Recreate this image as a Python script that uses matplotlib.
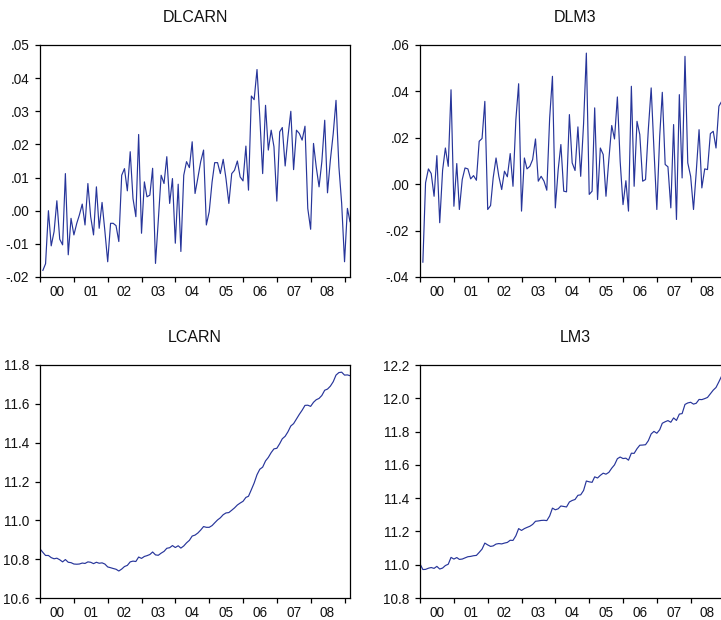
import numpy as np
import pandas as pd
import matplotlib
matplotlib.use("Agg")
import matplotlib.pyplot as plt
import matplotlib.dates as mdates
from matplotlib.ticker import FuncFormatter, NullFormatter

# monthly sample 2000M01 - 2009M03
months = pd.date_range("2000-01-01", periods=111, freq="MS")

# first differences start in 2000M02
dlcarn = [-0.018, -0.016, 0.000, -0.0106, -0.0063, 0.003, -0.0086, -0.0103, 0.0112, -0.0133, -0.0023, -0.0073,
          -0.0038, -0.0013, 0.002, -0.0043, 0.0082, -0.0018, -0.0073, 0.0072, -0.0053, 0.0025, -0.006, -0.0154,
          -0.0038, -0.0038, -0.0045, -0.0093, 0.0107, 0.0127, 0.006, 0.0178, 0.0037, -0.0018, 0.023, -0.0068,
          0.0087, 0.0042, 0.0047, 0.0128, -0.0159, -0.003, 0.0107, 0.0082, 0.0163, 0.0022, 0.0097, -0.0098,
          0.008, -0.0123, 0.0107, 0.0148, 0.013, 0.0208, 0.0052, 0.010, 0.0148, 0.0183, -0.0043, -0.0003,
          0.0087, 0.0145, 0.0145, 0.0112, 0.0155, 0.0097, 0.0022, 0.0112, 0.0122, 0.015, 0.0102, 0.009,
          0.0195, 0.0062, 0.0346, 0.0335, 0.0426, 0.0283, 0.0112, 0.0318, 0.0183, 0.0243, 0.0193, 0.0029,
          0.0238, 0.0251, 0.0135, 0.0223, 0.030, 0.0124, 0.0243, 0.0233, 0.0213, 0.0255, 0.0007, -0.0056,
          0.0203, 0.0133, 0.0072, 0.0148, 0.0273, 0.0054, 0.0153, 0.0233, 0.0333, 0.0133, 0.0022, -0.0154,
          0.0007, -0.0033]

dlm3 = [-0.0336, 0.0006, 0.0066, 0.0046, -0.0052, 0.0123, -0.0166, 0.006, 0.0156, 0.0077, 0.0407, -0.0095,
        0.0089, -0.0109, 0.002, 0.007, 0.0066, 0.0023, 0.0037, 0.0017, 0.0185, 0.0197, 0.0357, -0.0109,
        -0.0092, 0.0027, 0.0113, 0.0034, -0.0023, 0.0056, 0.0032, 0.0132, -0.0009, 0.0278, 0.0433, -0.0116,
        0.0113, 0.0066, 0.0077, 0.0106, 0.0195, 0.0013, 0.0034, 0.0013, -0.0026, 0.0286, 0.0465, -0.0102,
        0.0063, 0.0171, -0.003, -0.0033, 0.030, 0.0092, 0.0059, 0.0247, 0.0034, 0.026, 0.0565, -0.0044,
        -0.003, 0.0329, -0.0066, 0.0156, 0.0128, -0.0052, 0.0106, 0.0253, 0.0195, 0.0376, 0.0099, -0.0088,
        0.0015, -0.0116, 0.0422, -0.0009, 0.0271, 0.0214, 0.0013, 0.002, 0.0235, 0.0415, 0.0149, -0.0109,
        0.0207, 0.0396, 0.0085, 0.0075, -0.0102, 0.0257, -0.0152, 0.0386, 0.0027, 0.0551, 0.0092, 0.0034,
        -0.0109, 0.005, 0.0235, -0.0016, 0.0066, 0.0063, 0.0218, 0.0228, 0.0156, 0.0336, 0.0357, 0.030,
        0.028, 0.032]

lcarn = [10.853,
         10.835, 10.819, 10.819, 10.808, 10.802, 10.805, 10.797, 10.786, 10.798, 10.784, 10.782, 10.775,
         10.774, 10.775, 10.780, 10.778, 10.786, 10.784, 10.777, 10.784, 10.779, 10.781, 10.775, 10.760,
         10.756, 10.752, 10.748, 10.739, 10.749, 10.762, 10.768, 10.786, 10.790, 10.788, 10.811, 10.804,
         10.814, 10.818, 10.824, 10.837, 10.822, 10.820, 10.831, 10.840, 10.856, 10.859, 10.870, 10.860,
         10.869, 10.857, 10.868, 10.884, 10.897, 10.919, 10.924, 10.935, 10.950, 10.968, 10.964, 10.964,
         10.973, 10.987, 11.002, 11.013, 11.029, 11.038, 11.040, 11.052, 11.064, 11.079, 11.089, 11.098,
         11.118, 11.124, 11.158, 11.192, 11.235, 11.263, 11.274, 11.306, 11.324, 11.349, 11.368, 11.371,
         11.395, 11.420, 11.433, 11.456, 11.486, 11.498, 11.522, 11.546, 11.567, 11.592, 11.593, 11.587,
         11.608, 11.621, 11.628, 11.643, 11.670, 11.676, 11.691, 11.714, 11.748, 11.761, 11.763, 11.748,
         11.749, 11.745]

lm3 = [11.005,
       10.971, 10.972, 10.979, 10.983, 10.978, 10.990, 10.974, 10.980, 10.995, 11.003, 11.044, 11.034,
       11.043, 11.032, 11.034, 11.041, 11.048, 11.050, 11.054, 11.056, 11.074, 11.094, 11.130, 11.119,
       11.110, 11.113, 11.124, 11.127, 11.125, 11.130, 11.134, 11.147, 11.146, 11.174, 11.217, 11.206,
       11.217, 11.224, 11.231, 11.242, 11.261, 11.263, 11.266, 11.267, 11.265, 11.293, 11.340, 11.330,
       11.336, 11.353, 11.350, 11.347, 11.377, 11.386, 11.392, 11.417, 11.420, 11.446, 11.503, 11.498,
       11.495, 11.528, 11.521, 11.537, 11.550, 11.544, 11.555, 11.580, 11.600, 11.637, 11.647, 11.638,
       11.640, 11.628, 11.670, 11.669, 11.697, 11.718, 11.719, 11.721, 11.745, 11.786, 11.801, 11.790,
       11.811, 11.850, 11.859, 11.866, 11.856, 11.882, 11.867, 11.905, 11.908, 11.963, 11.972, 11.976,
       11.965, 11.970, 11.993, 11.992, 11.998, 12.005, 12.027, 12.049, 12.065, 12.099, 12.134, 12.164,
       12.192, 12.224]

plt.rcParams['font.family'] = ['Liberation Sans', 'DejaVu Sans']

LINE_COLOR = '#27359a'
TEXT_COLOR = '#111111'
W, H = 721, 620

fig = plt.figure(figsize=(W / 100, H / 100), dpi=100)


def small_fmt(v, _):
    return f"{v:.2f}".replace("0.", ".")


def level_fmt(v, _):
    return f"{v:.1f}"


def panel(px_left, px_top, px_w, px_h, x, y, title, yticks, fmt):
    ax = fig.add_axes([px_left / W, 1 - (px_top + px_h) / H, px_w / W, px_h / H])
    ax.plot(x, y, color=LINE_COLOR, lw=0.85)
    ax.set_xlim(months[0], months[-1])
    ax.set_ylim(yticks[0], yticks[-1])
    ax.set_yticks(yticks)
    ax.yaxis.set_major_formatter(FuncFormatter(fmt))
    # year boundaries get tick marks, labels sit mid-year
    ax.xaxis.set_major_locator(mdates.YearLocator())
    ax.xaxis.set_major_formatter(NullFormatter())
    ax.xaxis.set_minor_locator(mdates.MonthLocator(bymonth=7))
    ax.xaxis.set_minor_formatter(mdates.DateFormatter('%y'))
    ax.tick_params(axis='x', which='major', direction='out', length=3.8, width=0.9)
    ax.tick_params(axis='x', which='minor', length=0, pad=5.5, labelsize=9.8, labelcolor=TEXT_COLOR)
    ax.tick_params(axis='y', direction='out', length=3.8, width=0.9, labelsize=9.8,
                   labelcolor=TEXT_COLOR, right=False, pad=4)
    for s in ax.spines.values():
        s.set_linewidth(0.9)
    ax.text(0.5, 1 + 27 / px_h, title, transform=ax.transAxes,
            ha='center', va='center', fontsize=11.5, color=TEXT_COLOR)
    return ax


panel(40, 45, 310, 232, months[1:], dlcarn, 'DLCARN',
      np.round(np.arange(-0.02, 0.051, 0.01), 2), small_fmt)
panel(420, 45, 310, 232, months[1:], dlm3, 'DLM3',
      np.round(np.arange(-0.04, 0.061, 0.02), 2), small_fmt)
panel(40, 365, 310, 233, months, lcarn, 'LCARN',
      np.round(np.arange(10.6, 11.81, 0.2), 1), level_fmt)
panel(420, 365, 310, 233, months, lm3, 'LM3',
      np.round(np.arange(10.8, 12.21, 0.2), 1), level_fmt)

fig.savefig('out.png', dpi=100)
